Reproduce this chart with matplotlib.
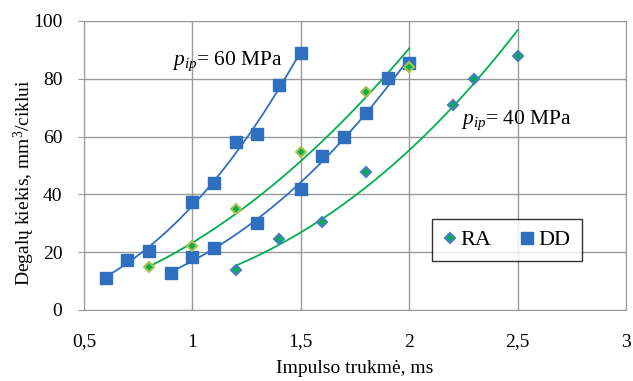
import numpy as np
import matplotlib
matplotlib.use("Agg")
import matplotlib.pyplot as plt
from matplotlib.lines import Line2D

plt.rcParams['font.family'] = ['Liberation Serif', 'DejaVu Serif']
plt.rcParams['mathtext.fontset'] = 'custom'
plt.rcParams['mathtext.rm'] = 'Liberation Serif'
plt.rcParams['mathtext.it'] = 'Liberation Serif:italic'

# DD (blue squares), p_ip = 60 MPa
dd60_x = [0.6, 0.7, 0.8, 1.0, 1.1, 1.2, 1.3, 1.4, 1.5]
dd60_y = [11.2, 17.3, 20.5, 37.2, 43.8, 58.0, 61.0, 77.8, 89.0]
# DD (blue squares), p_ip = 40 MPa
dd40_x = [0.9, 1.0, 1.1, 1.3, 1.5, 1.6, 1.7, 1.8, 1.9, 2.0]
dd40_y = [12.8, 18.2, 21.3, 30.0, 42.0, 53.2, 60.0, 68.0, 80.2, 85.3]
# RA (diamonds), middle series
ra60_x = [0.8, 1.0, 1.2, 1.5, 1.8, 2.0]
ra60_y = [14.8, 22.3, 34.8, 54.8, 75.5, 84.0]
# RA (diamonds), p_ip = 40 MPa
ra40_x = [1.2, 1.4, 1.6, 1.8, 2.2, 2.3, 2.5]
ra40_y = [13.8, 24.7, 30.4, 47.8, 71.0, 80.0, 88.0]

xticks = [0.5, 1, 1.5, 2, 2.5, 3]
xticklabels = ['0,5', '1', '1,5', '2', '2,5', '3']
yticks = [0, 20, 40, 60, 80, 100]

blue = '#2e6fc0'
green = '#00b050'
ra_edge1 = '#4a7cc6'
ra_edge2 = '#a8c24a'

fig = plt.figure(figsize=(6.33, 3.81), dpi=100)
ax = fig.add_axes([0.1327, 0.1864, 0.8563, 0.7586])

def trend(xs, ys, color):
    # power-law trendline y = a * x^b (fit in log-log space)
    b, lna = np.polyfit(np.log(xs), np.log(ys), 1)
    xx = np.linspace(min(xs), max(xs), 200)
    ax.plot(xx, np.exp(lna) * xx ** b, color=color, lw=1.3, zorder=3)

trend(dd60_x, dd60_y, blue)
trend(dd40_x, dd40_y, blue)
trend(ra60_x, ra60_y, green)
trend(ra40_x, ra40_y, green)

ax.plot(dd60_x, dd60_y, 's', ms=8, color=blue, mec=blue, zorder=4)
ax.plot(dd40_x, dd40_y, 's', ms=8, color=blue, mec=blue, zorder=4)
ax.plot(ra60_x, ra60_y, 'D', ms=5.5, mfc=green, mec=ra_edge2, mew=1.5, zorder=4)
ax.plot(ra40_x, ra40_y, 'D', ms=5.5, mfc=green, mec=ra_edge1, mew=1.5, zorder=4)

ax.set_xlim(0.5, 3)
ax.set_ylim(0, 100)
ax.set_xticks(xticks)
ax.set_xticklabels(xticklabels)
ax.set_yticks(yticks)
ax.grid(True, color='#9a9a9a', lw=1)
ax.set_axisbelow(True)
for s in ax.spines.values():
    s.set_color('#9a9a9a')
ax.tick_params(axis='x', length=0, labelsize=14, pad=17, colors='black')
ax.tick_params(axis='y', length=4.5, color='#9a9a9a', labelsize=14, pad=11, labelcolor='black')

ax.set_xlabel('Impulso trukmė, ms', fontsize=14)
ax.xaxis.set_label_coords(0.5, -0.172)
fig.text(24 / 633, 1 - 183 / 381, 'Degalų kiekis, mm$^3$/ciklui', fontsize=14,
         rotation=90, ha='center', va='center')

ax.text(0.905, 86, r'$p_{ip}$= 60 MPa', fontsize=15.5, ha='left', va='center')
ax.text(2.24, 65.5, r'$p_{ip}$= 40 MPa', fontsize=15.5, ha='left', va='center')

h1 = Line2D([], [], marker='D', ls='none', ms=5.5, mfc=green, mec=ra_edge1, mew=1.5)
h2 = Line2D([], [], marker='s', ls='none', ms=8, color=blue)
leg = ax.legend([h1, h2], ['RA', 'DD'], ncol=2, loc='center', bbox_to_anchor=(0.78, 0.242),
                fontsize=16, frameon=True, fancybox=False, edgecolor='black',
                handlelength=0.6, handletextpad=0.2, columnspacing=1.3, borderpad=0.5)
leg.get_frame().set_linewidth(1.0)

fig.savefig('out.png', dpi=100)
